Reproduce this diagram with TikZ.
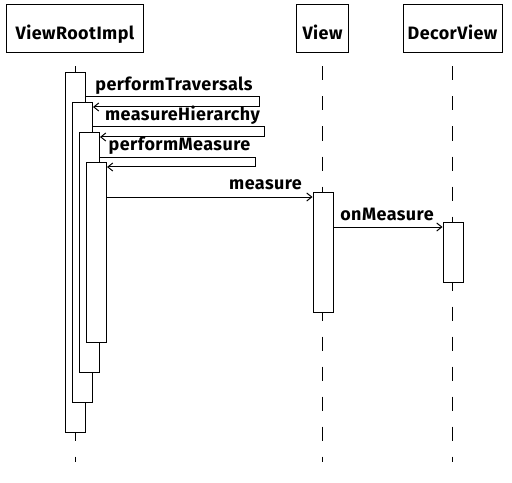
\documentclass[tikz,border=0pt]{standalone}
\usepackage{fontspec}
\setmainfont{Fira Sans}[LetterSpace=2.5]
\usetikzlibrary{arrows.meta}

\tikzset{
  objbox/.style={draw, line width=1bp, inner sep=0pt, minimum height=48bp,
    text height=26bp, text depth=4bp, font=\bfseries\fontsize{18}{20}\selectfont},
  act/.style={draw, fill=white, line width=1bp, inner sep=0pt,
    minimum width=20bp, anchor=north west},
  life/.style={line width=1bp, dash pattern=on 14bp off 16bp},
  msg/.style={line width=1bp, -{Straight Barb[length=5bp,width=8bp]}},
  msglabel/.style={anchor=base, inner sep=0pt, font=\bfseries\fontsize{18}{20}\selectfont}
}

\begin{document}
\begin{tikzpicture}[x=1bp, y=-1bp]
  \useasboundingbox (0,0) rectangle (512,483);

  % objects
  \node [objbox, minimum width=136bp] (vri) at (75,29) {ViewRootImpl};
  \node [objbox, minimum width=52bp] (view) at (322.5,29) {View};
  \node [objbox, minimum width=99bp] (decor) at (452.5,29) {DecorView};

  % lifelines
  \draw [life] ([yshift=-13bp]vri.south) -- ++(0,395);
  \draw [life] ([yshift=-13bp]view.south) -- ++(0,395);
  \draw [life] ([yshift=-13bp]decor.south) -- ++(0,395);

  % activations
  \node [act, minimum height=360bp] (a1) at (65,72) {};
  \node [act, minimum height=300bp] (a2) at (72,102) {};
  \node [act, minimum height=240bp] (a3) at (79,132) {};
  \node [act, minimum height=180bp] (a4) at (86,162) {};
  \node [act, minimum height=120bp] (v1) at (312.5,192) {};
  \node [act, minimum height=60bp] (d1) at (442.5,222) {};

  % message rows
  \coordinate (t1) at (0,97);  \coordinate (l1) at (259,107);
  \coordinate (t2) at (0,127); \coordinate (l2) at (264,137);
  \coordinate (t3) at (0,158); \coordinate (l3) at (255,167);
  \coordinate (m1) at (0,197);
  \coordinate (m2) at (0,227);

  \draw [msg] (a1.east |- t1) -| (l1) -- (a2.east |- l1);
  \draw [msg] (a2.east |- t2) -| (l2) -- (a3.east |- l2);
  \draw [msg] (a3.east |- t3) -| (l3) -- (a4.east |- l3);
  \draw [msg] (a4.east |- m1) -- (v1.west |- m1);
  \draw [msg] (v1.east |- m2) -- (d1.west |- m2);

  \node [msglabel] (pt) at (174,91) {performTraversals};
  \node [msglabel] (mh) at (182.5,121) {measureHierarchy};
  \node [msglabel] (pm) at (179.5,151) {performMeasure};
  \node [msglabel] (me) at (265.5,190) {measure};
  \node [msglabel] (om) at (387,220) {onMeasure};
\end{tikzpicture}
\end{document}
